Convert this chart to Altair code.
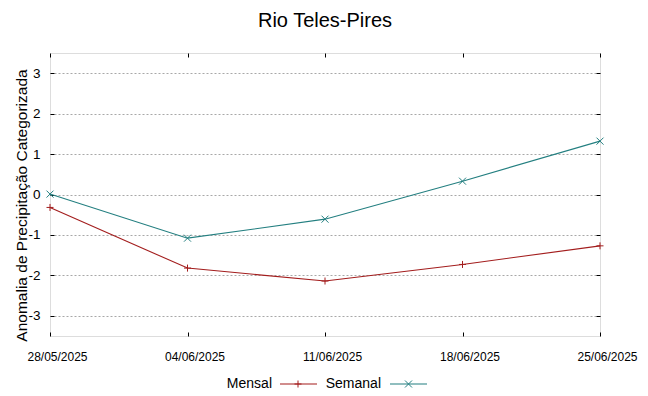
import altair as alt
import pandas as pd

# ---- data ----
dates = ["28/05/2025", "04/06/2025", "11/06/2025", "18/06/2025", "25/06/2025"]
mensal = [-0.32, -1.82, -2.14, -1.73, -1.27]
semanal = [0.01, -1.08, -0.61, 0.33, 1.32]
series = ["Mensal", "Semanal"]
colors = ["#a31d1d", "#237f80"]
y_ticks = [-3, -2, -1, 0, 1, 2, 3]
title_text = ["Rio Teles-Pires"]

PLUS = "M-1,0L1,0M0,-1L0,1"
CROSS = "M-1,-1L1,1M-1,1L1,-1"
FONT = "Liberation Sans"

rows = []
for d, m, s in zip(dates, mensal, semanal):
    rows.append({"data": d, "serie": "Mensal", "valor": m})
    rows.append({"data": d, "serie": "Semanal", "valor": s})
df = pd.DataFrame(rows)

W, H = 550, 283

xscale = alt.Scale(type="point", padding=0, domain=dates)
yscale = alt.Scale(domain=[-3.5, 3.5], nice=False, zero=False)
cscale = alt.Scale(domain=series, range=colors)

x_bottom = alt.Axis(orient="bottom", offset=-4, tickSize=4, tickColor="black", domain=False,
                    grid=False, labelAngle=0, labelFontSize=12, labelFont=FONT, labelColor="black",
                    labelPadding=15, labelOffset=7, title=None)
y_left = alt.Axis(orient="left", offset=-4, tickSize=4, tickColor="black", domain=False,
                  values=y_ticks, grid=True, gridColor="#a8a8a8", gridDash=[2, 2], gridWidth=1,
                  labelFontSize=13.5, labelFont=FONT, labelColor="black", labelPadding=10,
                  labelExpr="'' + datum.value",
                  title="Anomalia de Precipitação Categorizada", titleFont=FONT,
                  titleFontSize=15.5, titleFontWeight="normal", titleColor="black",
                  titleAngle=270, titleBaseline="alphabetic", titleAlign="center",
                  titleX=-28, titleY=152)
x_top = alt.Axis(orient="top", offset=-4, tickSize=4, tickColor="black", domain=False,
                 grid=False, labels=False, title=None)
y_right = alt.Axis(orient="right", offset=-4, tickSize=4, tickColor="black", domain=False,
                   values=y_ticks, grid=False, labels=False, title=None)

lines = alt.Chart(df).mark_line(strokeWidth=1.1).encode(
    x=alt.X("data:O", scale=xscale, sort=dates, axis=x_bottom),
    y=alt.Y("valor:Q", scale=yscale, axis=y_left),
    color=alt.Color("serie:N", scale=cscale, legend=None),
)

points = alt.Chart(df).mark_point(filled=False, size=49, strokeWidth=1, opacity=1).encode(
    x=alt.X("data:O", scale=xscale, sort=dates, axis=None),
    y=alt.Y("valor:Q", scale=yscale, axis=None),
    color=alt.Color("serie:N", scale=cscale, legend=None),
    shape=alt.Shape("serie:N", scale=alt.Scale(domain=series, range=[PLUS, CROSS]), legend=None),
)

frame_axes = alt.Chart(df).mark_point(opacity=0).encode(
    x=alt.X("data:O", scale=xscale, sort=dates, axis=x_top),
    y=alt.Y("valor:Q", scale=yscale, axis=y_right),
)

# ---- title as text mark ----
title_mark = alt.Chart(pd.DataFrame({"t": title_text})).mark_text(
    align="center", baseline="alphabetic", fontSize=20, font=FONT, color="black"
).encode(text="t:N", x=alt.value(W / 2), y=alt.value(-26))

# ---- manual legend (label left of sample, gnuplot style) ----
def legend_item(name, color, shape, x_text, x0, x1, xm):
    d = pd.DataFrame({"t": [name]})
    txt = alt.Chart(d).mark_text(align="right", baseline="alphabetic", fontSize=14,
                                 font=FONT, color="black").encode(
        text="t:N", x=alt.value(x_text), y=alt.value(335))
    rule = alt.Chart(d).mark_rule(color=color, strokeWidth=1.1).encode(
        x=alt.value(x0), x2=alt.value(x1), y=alt.value(331))
    mk = alt.Chart(d).mark_point(shape=shape, filled=False, size=49, strokeWidth=1,
                                 color=color, opacity=1).encode(
        x=alt.value(xm), y=alt.value(331))
    return [txt, rule, mk]

leg = legend_item("Mensal", colors[0], PLUS, 222, 230, 267, 248) + \
      legend_item("Semanal", colors[1], CROSS, 331, 340, 377, 358.5)

chart = alt.layer(lines, points, frame_axes, title_mark, *leg).resolve_axis(
    x="independent", y="independent"
).properties(
    width=W, height=H,
    autosize=alt.AutoSizeParams(type="none"),
    padding={"left": 42, "top": 45, "right": 40, "bottom": 52},
).configure_view(stroke="#555555", strokeWidth=1).configure(background="white")

chart.save("out.html", embed_options={"renderer": "svg", "actions": False})
